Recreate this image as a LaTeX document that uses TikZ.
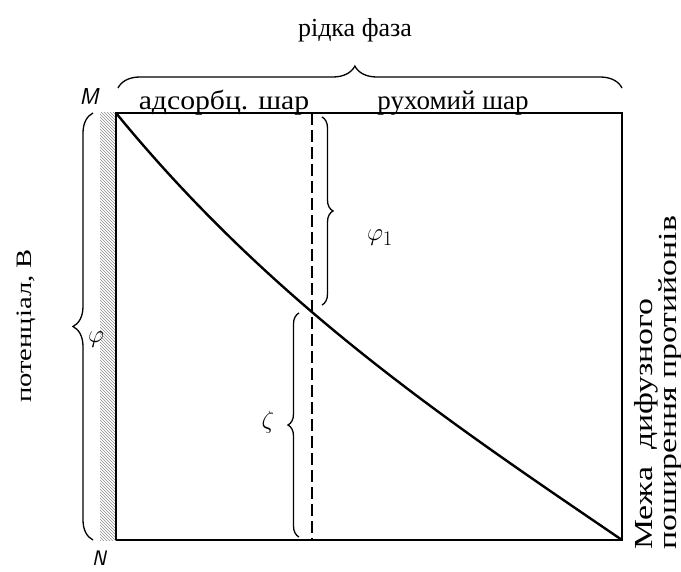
\documentclass[tikz,border=0pt]{standalone}
\usepackage{fontspec}
\setmainfont{Liberation Serif}
\usetikzlibrary{decorations.pathreplacing,patterns}

\tikzset{
  txt/.style={inner sep=0pt,font=\fontsize{27}{30}\selectfont},
  sym/.style={inner sep=0pt,font=\fontsize{28}{30}\selectfont},
  vtxt/.style={inner sep=0pt,rotate=90,font=\fontsize{26}{28}\selectfont},
  frame/.style={line width=1.8pt},
  brc/.style={decorate,decoration={brace,amplitude=#1},line width=1.3pt},
  brc/.default=12pt
}
\newcommand{\stretched}[1]{\scalebox{1.3}[1]{#1}}

\begin{document}
\begin{tikzpicture}[x=1pt,y=-1pt]
  \useasboundingbox (0,0) rectangle (681,572);
  % corners of the layer
  \coordinate (M) at (116,113);
  \coordinate (N) at (116,540);
  \coordinate (R) at (622,113);
  \coordinate (E) at (622,540);
  \coordinate (dtop) at (312,113);
  \coordinate (dbot) at (312,540);
  % wall hatching
  \fill[pattern=north west lines,pattern color=black!45] (100,113) rectangle (116,540);
  \draw[frame] (N)--(M)--(R)--(E)--(N);
  \draw[line width=1.6pt,dash pattern=on 12pt off 5pt] (dtop)--(dbot);
  % potential curve
  \draw[line width=2.4pt] (M) .. controls (274,306) and (452,424) .. (E);
  % braces
  \draw[brc=22pt,decoration={aspect=0.47}] (118,88)--(622,88);
  \draw[brc=20pt] (93,540)--(93,113);
  \draw[brc=11pt] (322,117)--(322,305);
  \draw[brc=11pt] (299,537)--(299,313);
  % labels
  \node[txt,font=\fontsize{26}{30}\selectfont,anchor=base] (phase) at (355,37) {рідка фаза};
  \node[txt,anchor=base,xscale=1.1] (ads) at (224,110) {адсорбц. шар};
  \node[txt,anchor=base] (mob) at (453,110) {рухомий шар};
  \node[txt,font=\fontsize{23}{26}\selectfont\sffamily\itshape] (lM) at (89,97) {M};
  \node[txt,font=\fontsize{21}{24}\selectfont\sffamily\itshape] (lN) at (99,558) {N};
  \node[sym] (phi) at (96,340) {$\varphi$};
  \node[sym] (phi1) at (380,238) {$\varphi_1$};
  \node[sym,font=\fontsize{32}{34}\selectfont] (zeta) at (268,422) {$\zeta$};
  \node[vtxt,font=\fontsize{22}{24}\selectfont,anchor=base] (pot) at (31,326) {\stretched{потенціал, В}};
  \node[vtxt,anchor=base west] (lim1) at (652,550) {\stretched{Межа\ \ дифузного}};
  \node[vtxt,anchor=base west] (lim2) at (676,550) {\stretched{поширення протийонів}};
\end{tikzpicture}
\end{document}
